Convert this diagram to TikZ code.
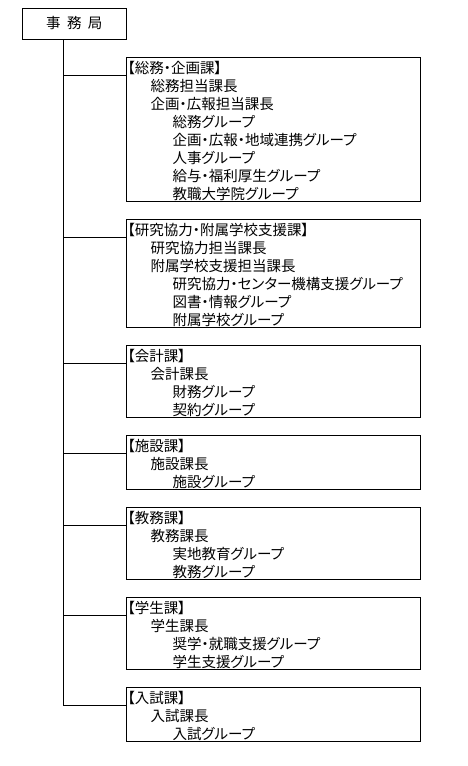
\documentclass[tikz,border=0pt]{standalone}
\usepackage{fontspec}
\newfontfamily\jpfont[RawFeature=+palt,WordSpace=2]{Noto Sans CJK JP}
\usetikzlibrary{positioning,calc}

% one text row of a section box
\newcommand\rowstrut{\rule[-1.5pt]{0pt}{18pt}}
\newcommand\secline[1]{\rowstrut#1}
\newcommand\chiefline[1]{\rowstrut\hspace*{23pt}#1}
\newcommand\groupline[1]{\rowstrut\hspace*{45pt}#1}

\begin{document}
\begin{tikzpicture}[
  x=1pt,y=-1pt,
  line width=1pt,
  jptext/.style={font=\jpfont\fontsize{14.5pt}{18pt}\selectfont},
  headbox/.style={draw,jptext,minimum width=104.5pt,minimum height=31pt,inner sep=0pt,outer sep=0pt,anchor=north west},
  unitbox/.style={draw,jptext,anchor=north west,minimum width=294pt,text width=292pt,
    inner xsep=1pt,inner ysep=0pt,outer sep=0pt,align=left,minimum height=#1*18pt,
    text height=16.5pt,text depth=\the\dimexpr#1\dimexpr18pt\relax-16.5pt\relax},
]
\useasboundingbox (0,0) rectangle (468,766);

% --- HEAD OFFICE ---
\node[headbox] (office) at (22,8) {事 務 局};

% --- SECTIONS ---
\node[unitbox=8] (general) at (126.5,57) {%
  \secline{【総務・企画課】}\\
  \chiefline{総務担当課長}\\
  \chiefline{企画・広報担当課長}\\
  \groupline{総務グループ}\\
  \groupline{企画・広報・地域連携グループ}\\
  \groupline{人事グループ}\\
  \groupline{給与・福利厚生グループ}\\
  \groupline{教職大学院グループ}};

\node[unitbox=6,below=18pt of general.south west,anchor=north west] (research) {%
  \secline{【研究協力・附属学校支援課】}\\
  \chiefline{研究協力担当課長}\\
  \chiefline{附属学校支援担当課長}\\
  \groupline{研究協力・センター機構支援グループ}\\
  \groupline{図書・情報グループ}\\
  \groupline{附属学校グループ}};

\node[unitbox=4,below=18pt of research.south west,anchor=north west] (account) {%
  \secline{【会計課】}\\
  \chiefline{会計課長}\\
  \groupline{財務グループ}\\
  \groupline{契約グループ}};

\node[unitbox=3,below=18pt of account.south west,anchor=north west] (facility) {%
  \secline{【施設課】}\\
  \chiefline{施設課長}\\
  \groupline{施設グループ}};

\node[unitbox=4,below=18pt of facility.south west,anchor=north west] (academic) {%
  \secline{【教務課】}\\
  \chiefline{教務課長}\\
  \groupline{実地教育グループ}\\
  \groupline{教務グループ}};

\node[unitbox=4,below=18pt of academic.south west,anchor=north west] (student) {%
  \secline{【学生課】}\\
  \chiefline{学生課長}\\
  \groupline{奨学・就職支援グループ}\\
  \groupline{学生支援グループ}};

\node[unitbox=3,below=18pt of student.south west,anchor=north west] (exam) {%
  \secline{【入試課】}\\
  \chiefline{入試課長}\\
  \groupline{入試グループ}};

% --- CONNECTORS ---
\coordinate (trunk) at ([xshift=41pt]office.south west);
\foreach \u in {general,research,account,facility,academic,student,exam}
  \coordinate (\u-in) at ([yshift=-18.5pt]\u.north west);

\draw (trunk) -- (trunk |- exam-in);
\foreach \u in {general,research,account,facility,academic,student,exam}
  \draw (trunk |- \u-in) -- (\u-in);

\end{tikzpicture}
\end{document}
